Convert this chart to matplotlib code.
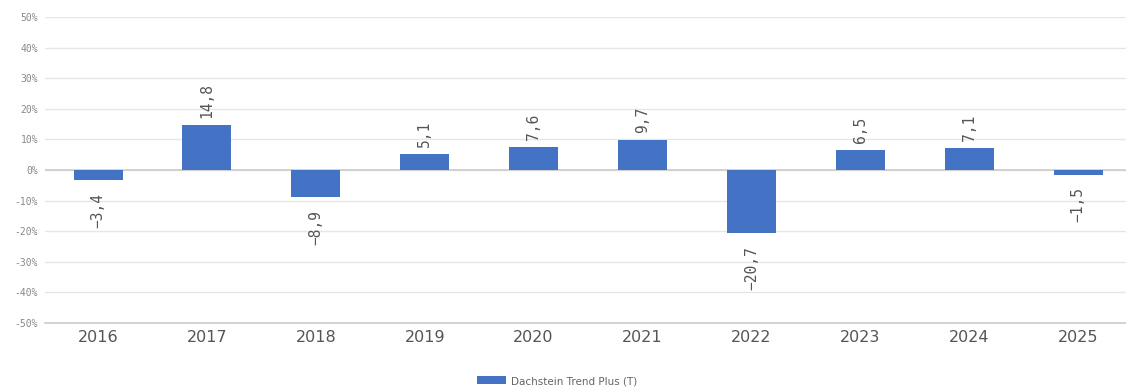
import matplotlib
matplotlib.use("Agg")
import matplotlib.pyplot as plt
from matplotlib.ticker import FuncFormatter
from matplotlib.patches import Patch

years = ["2016", "2017", "2018", "2019", "2020", "2021", "2022", "2023", "2024", "2025"]
values = [-3.4, 14.8, -8.9, 5.1, 7.6, 9.7, -20.7, 6.5, 7.1, -1.5]
series_name = "Dachstein Trend Plus (T)"
yticks = [-50, -40, -30, -20, -10, 0, 10, 20, 30, 40, 50]

bar_color = "#4472c4"

fig = plt.figure(figsize=(11.26, 3.89), dpi=100)
ax = fig.add_axes([45 / 1126, 1 - 323 / 389, 1 - 45 / 1126, (323 - 17) / 389])

x = list(range(len(years)))
bars = ax.bar(x, values, width=0.45, color=bar_color, zorder=3)

ax.set_ylim(-50, 50)
ax.set_xlim(-0.487, 9.44)
ax.set_yticks(yticks)
ax.yaxis.set_major_formatter(FuncFormatter(lambda v, p: f"{int(v)}%"))
ax.grid(axis="y", color="#e6e6e6", linewidth=1, zorder=0)
ax.axhline(0, color="#cccccc", linewidth=1.2, zorder=2)
for s in ["top", "right", "left"]:
    ax.spines[s].set_visible(False)
ax.spines["bottom"].set_color("#cccccc")
ax.spines["bottom"].set_linewidth(1.2)

ax.set_xticks(x)
ax.set_xticklabels(years, fontsize=11.5, color="#555555")
ax.tick_params(axis="x", length=0, pad=5)
ax.tick_params(axis="y", length=0, labelsize=7, labelcolor="#888888", pad=5)
for lbl in ax.get_yticklabels():
    lbl.set_family("DejaVu Sans Mono")

for xi, v in zip(x, values):
    txt = f"{v:.1f}".replace(".", ",").replace("-", "\u2212")
    if v >= 0:
        ax.annotate(txt, (xi, v), xytext=(0, 5), textcoords="offset points",
                    rotation=90, ha="center", va="bottom", fontsize=10.5,
                    color="#555555", family="DejaVu Sans Mono")
    else:
        ax.annotate(txt, (xi, v), xytext=(0, -9), textcoords="offset points",
                    rotation=90, ha="center", va="top", fontsize=10.5,
                    color="#555555", family="DejaVu Sans Mono")

handles = [Patch(facecolor=bar_color, edgecolor="none", label=series_name)]
fig.legend(handles=handles, loc="center", bbox_to_anchor=(0.495, 1 - 381 / 389),
           frameon=False, fontsize=7.5, handlelength=2.8, handleheight=0.8,
           handletextpad=0.5, labelcolor="#666666")

fig.savefig("out.png", dpi=100)
